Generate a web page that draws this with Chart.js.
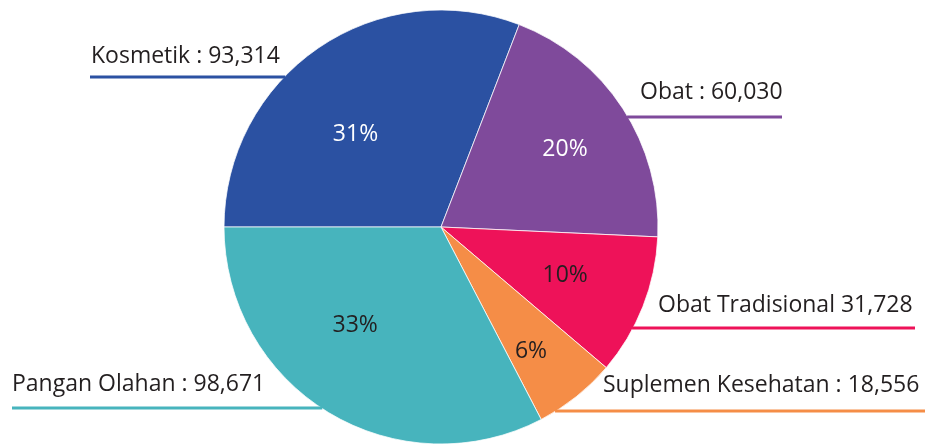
<!DOCTYPE html>
<html>
<head>
<meta charset="utf-8">
<script src="https://cdn.jsdelivr.net/npm/chart.js@4"></script>
<style>
  html, body { margin: 0; padding: 0; background: #fff; }
  #wrap { width: 925px; height: 444px; position: relative; }
</style>
</head>
<body>
<div id="wrap"><canvas id="pie"></canvas></div>
<script>
// data
const categories = ['Kosmetik', 'Obat', 'Obat Tradisional', 'Suplemen Kesehatan', 'Pangan Olahan'];
const amounts = [93314, 60030, 31728, 18556, 98671];
const separators = [' : ', ' : ', ' ', ' : ', ' : '];

// styles
const sliceColors = ['#2B51A2', '#7F4A9B', '#EE1259', '#F58D47', '#47B4BD'];
const pctColors = ['#ffffff', '#ffffff', '#231F20', '#231F20', '#231F20'];
const FONT = '"Open Sans", "Noto Sans", sans-serif';

// where the % text sits inside each slice: angle nudge (deg) from mid, radius fraction
const pctPlacement = [[-8, 0.584], [0.7, 0.677], [-0.5, 0.613], [2.5, 0.705], [10, 0.6]];

// callouts: text x, text baseline, underline y, far end of underline (other end = pie edge)
const callouts = [
    {x: 91, base: 63, lineY: 77, side: 'left', far: 90},
    {x: 640, base: 99, lineY: 117, side: 'right', far: 782},
    {x: 658, base: 312, lineY: 328, side: 'right', far: 915},
    {x: 603, base: 392, lineY: 411, side: 'right', far: 925},
    {x: 12, base: 391, lineY: 408, side: 'left', far: 12}
];

const total = amounts.reduce((a, b) => a + b, 0);

const labelPlugin = {
    id: 'pieLabels',
    afterDatasetsDraw(chart) {
        let ctx = chart.ctx;
        let arcs = chart.getDatasetMeta(0).data;
        ctx.save();
        arcs.forEach((arc, i) => {
            let {x, y, startAngle, endAngle, outerRadius} = arc.getProps(['x', 'y', 'startAngle', 'endAngle', 'outerRadius'], true);
            // percent inside slice
            let [nudge, frac] = pctPlacement[i];
            let mid = (startAngle + endAngle) / 2 + nudge * Math.PI / 180;
            let px = x + Math.cos(mid) * outerRadius * frac;
            let py = y + Math.sin(mid) * outerRadius * frac;
            ctx.font = '23px ' + FONT;
            ctx.fillStyle = pctColors[i];
            ctx.textAlign = 'center';
            ctx.textBaseline = 'middle';
            ctx.fillText(Math.round(amounts[i] / total * 100) + '%', px, py + 1);

            // callout text + underline running into the pie edge
            let c = callouts[i];
            ctx.textAlign = 'left';
            ctx.textBaseline = 'alphabetic';
            ctx.fillStyle = '#231F20';
            ctx.fillText(categories[i] + separators[i] + amounts[i].toLocaleString('en-US'), c.x, c.base);
            let dy = c.lineY - y;
            let edge = Math.sqrt(Math.max(outerRadius * outerRadius - dy * dy, 0));
            let ex = c.side === 'left' ? x - edge + 1 : x + edge - 1;
            ctx.strokeStyle = sliceColors[i];
            ctx.lineWidth = 3;
            ctx.beginPath();
            ctx.moveTo(c.far, c.lineY);
            ctx.lineTo(ex, c.lineY);
            ctx.stroke();
        });
        ctx.restore();
    }
};

new Chart(document.getElementById('pie'), {
    type: 'pie',
    data: {
        labels: categories,
        datasets: [{
            data: amounts,
            backgroundColor: sliceColors,
            borderColor: 'rgba(255,255,255,0.75)',
            borderWidth: 1
        }]
    },
    options: {
        responsive: true,
        maintainAspectRatio: false,
        animation: false,
        rotation: -90,
        radius: 217,
        layout: {padding: {top: 10, bottom: 0, left: 0, right: 43}},
        plugins: {
            legend: {display: false},
            tooltip: {enabled: false}
        }
    },
    plugins: [labelPlugin]
});
</script>
</body>
</html>
